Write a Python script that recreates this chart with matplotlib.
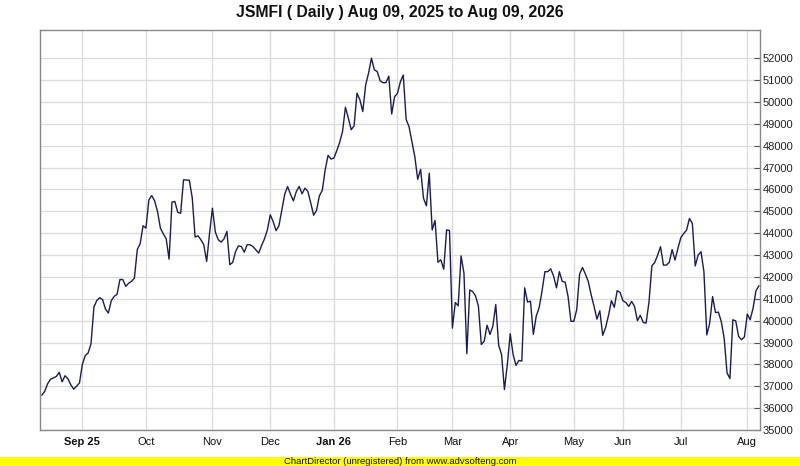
import matplotlib
matplotlib.use('Agg')
import matplotlib.pyplot as plt
from matplotlib.patches import Rectangle

plt.rcParams['font.family'] = ['Liberation Sans', 'DejaVu Sans']

TITLE = 'JSMFI ( Daily ) Aug 09, 2025 to Aug 09, 2026'
FOOTER = 'ChartDirector (unregistered) from www.advsofteng.com'

# daily closing values, one per trading day
close = [
    36600, 36770, 37120, 37320, 37380, 37450, 37640, 37200, 37480, 37350,
    37070, 36870, 37000, 37150, 38000, 38400, 38520, 38950, 40620, 40920,
    41050, 40960, 40530, 40350, 40910, 41110, 41200, 41880, 41880, 41570,
    41710, 41800, 41940, 43250, 43520, 44340, 44230, 45520, 45720, 45480,
    44990, 44230, 43970, 43740, 42810, 45420, 45450, 44950, 44910, 46440,
    46430, 46420, 45630, 43820, 43880, 43700, 43470, 42710, 44000, 45140,
    44050, 43700, 43590, 43740, 44080, 42560, 42660, 43160, 43420, 43390,
    43130, 43470, 43470, 43390, 43240, 43090, 43440, 43740, 44150, 44840,
    44530, 44120, 44340, 45060, 45780, 46130, 45780, 45480, 45900, 46140,
    45800, 46060, 45910, 45380, 44820, 45040, 45710, 45960, 46900, 47560,
    47390, 47430, 47770, 48150, 48650, 49760, 49260, 48730, 48910, 50400,
    50100, 49560, 50780, 51320, 52000, 51470, 51390, 50970, 50880, 50880,
    51180, 49450, 50240, 50390, 50920, 51230, 49200, 48870, 48180, 47500,
    46460, 46920, 45600, 45250, 46740, 44150, 44580, 42670, 42780, 42350,
    44150, 44120, 39660, 40830, 40680, 42960, 42170, 38490, 41400, 41330,
    41130, 40660, 38910, 39060, 39790, 39370, 39750, 40740, 38880, 38450,
    36850, 37990, 39400, 38450, 37950, 38180, 38150, 41500, 40850, 40890,
    39370, 40210, 40590, 41350, 42240, 42240, 42370, 42040, 41500, 42240,
    41790, 41760, 41110, 39970, 39970, 40500, 42130, 42430, 42130, 41790,
    41180, 40650, 40070, 40450, 39330, 39690, 40240, 40910, 40610, 41370,
    41290, 40910, 40830, 40650, 40880, 40650, 40000, 40240, 39920, 39890,
    40850, 42510, 42660, 43000, 43380, 42540, 42540, 42660, 43250, 42770,
    43300, 43790, 43980, 44140, 44670, 44440, 42500, 43000, 43150, 42240,
    39350, 39890, 41100, 40370, 40390, 39960, 39200, 37610, 37350, 40040,
    39990, 39280, 39130, 39250, 40300, 40040, 40570, 41360, 41590,
]

# first trading day of each month (index into close) and its label
month_labels = ['Sep 25', 'Oct', 'Nov', 'Dec', 'Jan 26', 'Feb', 'Mar',
                'Apr', 'May', 'Jun', 'Jul', 'Aug']
month_start = [14, 36, 59, 79, 101, 123, 142, 162, 184, 201, 221, 244]
year_labels = {'Sep 25', 'Jan 26'}

y_ticks = list(range(35000, 52001, 1000))


def create_chart(filename='out.png'):
    """Draws the daily close line chart in the ChartDirector look."""
    fig = plt.figure(figsize=(8.0, 4.66), dpi=100)
    fig.set_facecolor('white')
    ax = fig.add_axes([40 / 800, 36 / 466, 720 / 800, 400 / 466])

    ax.plot(range(len(close)), close, color='#1c1c54', lw=1.0)

    ax.set_xlim(-0.65, len(close) - 0.6)
    ax.set_ylim(35000, 53290)

    ax.set_xticks(month_start)
    ax.set_xticklabels(month_labels)
    for lbl in ax.get_xticklabels():
        if lbl.get_text() in year_labels:
            lbl.set_fontweight('bold')
    ax.set_yticks(y_ticks)
    ax.set_yticklabels([str(v) for v in y_ticks])

    ax.yaxis.tick_right()
    ax.tick_params(axis='x', length=0, pad=5, labelsize=8, labelcolor='#111111')
    ax.tick_params(axis='y', direction='in', length=4, width=0.8,
                   color='#555555', pad=2, labelsize=8, labelcolor='#222222')

    ax.grid(True, color='#dcdcdc', lw=1.0)
    ax.set_axisbelow(True)
    for spine in ax.spines.values():
        spine.set_color('#888888')
        spine.set_linewidth(1.0)

    fig.text(0.5, 1 - 17.5 / 466, TITLE, ha='center', va='baseline',
             fontsize=11.3, fontweight='bold', color='#111111')

    fig.patches.append(Rectangle((0, 0), 1, 9 / 466, transform=fig.transFigure,
                                 facecolor='#ffff00', edgecolor='none'))
    fig.text(0.5, 4.5 / 466, FOOTER, ha='center', va='center',
             fontsize=6.8, color='#111100')

    fig.savefig(filename, facecolor=fig.get_facecolor())


create_chart()
